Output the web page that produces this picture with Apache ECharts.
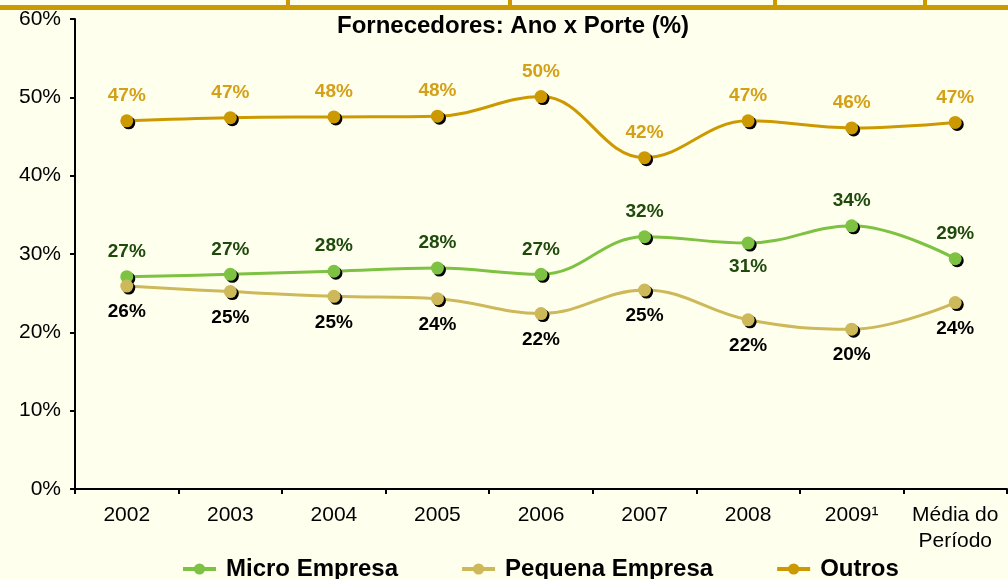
<!DOCTYPE html>
<html>
<head>
<meta charset="utf-8">
<script src="https://cdn.jsdelivr.net/npm/echarts@6/dist/echarts.min.js"></script>
<style>
    html, body { margin: 0; padding: 0; background: #FFFFEE; }
    #chart { width: 1008px; height: 579px; }
</style>
</head>
<body>
<div id="chart"></div>
<script>
var categories = ['2002', '2003', '2004', '2005', '2006', '2007', '2008', '2009\u00b9', 'Média do\nPeríodo'];
var microValues = [27.1, 27.4, 27.8, 28.2, 27.4, 32.2, 31.4, 33.6, 29.4];
var pequenaValues = [25.9, 25.2, 24.6, 24.3, 22.4, 25.4, 21.6, 20.4, 23.8];
var outrosValues = [47.0, 47.4, 47.5, 47.6, 50.1, 42.3, 47.0, 46.1, 46.8];
var microLabelBelow = [false, false, false, false, false, false, true, false, false];

var font = 'Liberation Sans, Arial, sans-serif';

function pct(p) {
    return Math.round(p.value) + '%';
}

function buildSeries(name, values, color, labelColor, pos, below) {
    return {
        name: name,
        type: 'line',
        smooth: 0.4,
        symbol: 'circle',
        symbolSize: 13,
        data: values.map(function (v, i) {
            var item = { value: v };
            if (below && below[i]) {
                item.label = { position: 'bottom', distance: 8 };
            }
            return item;
        }),
        lineStyle: { color: color, width: 3 },
        itemStyle: {
            color: color,
            shadowColor: '#000',
            shadowBlur: 0,
            shadowOffsetX: 2,
            shadowOffsetY: 2
        },
        label: {
            show: true,
            position: pos,
            distance: pos == 'top' ? 9 : 10,
            formatter: pct,
            color: labelColor,
            fontFamily: font,
            fontWeight: 'bold',
            fontSize: 19
        },
        emphasis: { disabled: true }
    };
}

var myChart = echarts.init(document.getElementById('chart'));
var option = {
    backgroundColor: '#FFFFEE',
    animation: false,
    title: {
        text: 'Fornecedores: Ano x Porte (%)',
        left: 508,
        textAlign: 'center',
        top: 9,
        textStyle: { fontFamily: font, fontWeight: 'bold', fontSize: 24, color: '#000' }
    },
    graphic: [
        { type: 'rect', shape: { x: 0, y: 5, width: 1008, height: 5 }, style: { fill: '#CC9900' } },
        { type: 'rect', shape: { x: 286, y: 0, width: 4, height: 6 }, style: { fill: '#CC9900' } },
        { type: 'rect', shape: { x: 508, y: 0, width: 4, height: 6 }, style: { fill: '#CC9900' } },
        { type: 'rect', shape: { x: 773, y: 0, width: 4, height: 6 }, style: { fill: '#CC9900' } },
        { type: 'rect', shape: { x: 923, y: 0, width: 4, height: 6 }, style: { fill: '#CC9900' } }
    ],
    legend: {
        top: 552,
        left: 176,
        itemGap: 62,
        itemWidth: 33,
        itemHeight: 14,
        lineStyle: { width: 4 },
        textStyle: { fontFamily: font, fontWeight: 'bold', fontSize: 24, color: '#000', padding: [0, 0, 0, 5] },
        data: ['Micro Empresa', 'Pequena Empresa', 'Outros']
    },
    grid: { left: 75, right: 1, top: 19, bottom: 90, containLabel: false },
    xAxis: {
        type: 'category',
        data: categories,
        boundaryGap: true,
        axisLine: { lineStyle: { color: '#000', width: 2 } },
        axisTick: { show: true, length: 5, lineStyle: { color: '#000', width: 2 } },
        axisLabel: { fontFamily: font, fontSize: 21, color: '#000', margin: 13, lineHeight: 26, interval: 0 }
    },
    yAxis: {
        type: 'value',
        min: 0,
        max: 60,
        interval: 10,
        axisLine: { show: true, lineStyle: { color: '#000', width: 2 } },
        axisTick: { show: true, length: 5, lineStyle: { color: '#000', width: 2 } },
        splitLine: { show: false },
        axisLabel: { fontFamily: font, fontSize: 21, color: '#000', margin: 14, formatter: '{value}%' }
    },
    series: [
        buildSeries('Micro Empresa', microValues, '#7DC242', '#1E4A0C', 'top', microLabelBelow),
        buildSeries('Pequena Empresa', pequenaValues, '#CDB85A', '#000', 'bottom', null),
        buildSeries('Outros', outrosValues, '#CC9900', '#D4A017', 'top', null)
    ]
};
myChart.setOption(option);
window.onresize = myChart.resize;
</script>
</body>
</html>
